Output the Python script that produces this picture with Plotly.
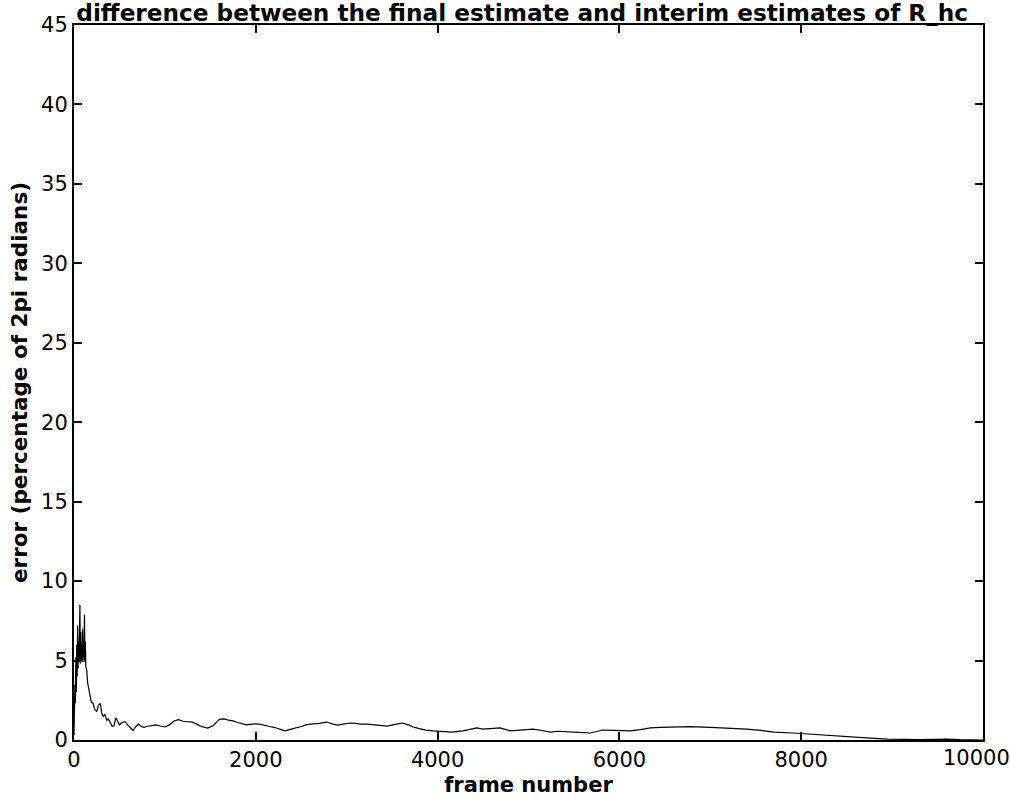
import plotly.graph_objects as go

frames = [0, 5, 10, 15, 20, 25, 30, 35, 40, 45, 50, 55, 60, 65, 70, 75, 80, 85, 90, 95,
          100, 105, 110, 115, 120, 125, 130, 140, 150, 160, 170, 180, 190, 210, 230, 250,
          270, 290, 305, 320, 340, 360, 380, 400, 420, 440, 460, 480, 500, 530, 560, 590,
          620, 650, 680, 710, 740, 770, 800, 850, 900, 950, 1000, 1050, 1100, 1150, 1200,
          1250, 1300, 1350, 1400, 1470, 1530, 1600, 1650, 1700, 1750, 1800, 1850, 1900,
          1950, 2000, 2050, 2100, 2150, 2200, 2250, 2320, 2400, 2450, 2500, 2550, 2600,
          2700, 2780, 2850, 2900, 2960, 3040, 3100, 3150, 3230, 3330, 3440, 3550, 3610,
          3680, 3730, 3800, 3870, 3950, 4050, 4150, 4280, 4380, 4430, 4500, 4600, 4690,
          4800, 4900, 5050, 5150, 5240, 5320, 5420, 5550, 5680, 5820, 5950, 6120, 6230,
          6340, 6450, 6560, 6780, 7000, 7220, 7400, 7550, 7700, 7910, 8050, 8210, 8350,
          8500, 8760, 8950, 9100, 9300, 9450, 9600, 9750, 9890, 10000]

error = [0.3, 1.8, 3.5, 2.3, 5.2, 3.0, 6.0, 4.0, 7.2, 4.5, 6.2, 5.0, 8.0, 8.5, 4.8, 6.8,
         5.0, 6.0, 4.9, 7.0, 5.2, 5.8, 4.9, 7.9, 5.0, 6.2, 4.6, 4.4, 3.6, 3.3, 2.8, 2.6,
         2.4, 2.3, 1.9, 1.8, 2.2, 2.3, 1.7, 1.5, 1.6, 1.25, 1.3, 1.1, 0.85, 0.9, 1.4, 1.2,
         0.95, 1.1, 1.15, 0.95, 0.8, 0.6, 0.85, 1.0, 0.85, 0.8, 0.85, 0.9, 0.95, 0.88,
         0.82, 0.95, 1.2, 1.28, 1.18, 1.15, 1.12, 1.0, 0.85, 0.75, 0.9, 1.3, 1.33, 1.25,
         1.2, 1.1, 1.0, 0.95, 1.0, 1.02, 0.98, 0.9, 0.85, 0.8, 0.7, 0.57, 0.7, 0.76, 0.85,
         0.95, 1.0, 1.05, 1.13, 1.0, 0.94, 1.0, 1.07, 1.05, 1.0, 1.0, 0.95, 0.88, 1.0,
         1.07, 0.95, 0.82, 0.72, 0.62, 0.57, 0.52, 0.5, 0.57, 0.7, 0.76, 0.69, 0.75, 0.76,
         0.57, 0.6, 0.69, 0.6, 0.5, 0.55, 0.5, 0.48, 0.44, 0.63, 0.6, 0.57, 0.65, 0.76,
         0.8, 0.82, 0.84, 0.8, 0.76, 0.69, 0.6, 0.5, 0.44, 0.38, 0.31, 0.25, 0.19, 0.12,
         0.06, 0.03, 0.02, 0.04, 0.06, 0.02, 0.01, 0.0]

x_ticks = [0, 2000, 4000, 6000, 8000, 10000]
x_labels = ["0", "2000", "4000", "6000", "8000", "10000"]
y_ticks = [0, 5, 10, 15, 20, 25, 30, 35, 40, 45]

tick_font = dict(family="DejaVu Sans", size=21, color="black")

fig = go.Figure()
fig.add_trace(go.Scatter(x=frames, y=error, mode="lines",
                         line=dict(color="black", width=1.2), showlegend=False))

axis_common = dict(showline=True, linecolor="black", linewidth=2, mirror="ticks",
                   ticks="inside", ticklen=8, tickwidth=1.5, tickcolor="black",
                   showgrid=False, zeroline=False, automargin=False,
                   tickfont=tick_font)

# the last x label would spill past the page edge (plotly hides it), so draw it as an annotation
fig.add_annotation(x=x_ticks[-1], y=0, xref="x", yref="y", text=x_labels[-1],
                   showarrow=False, font=tick_font, xanchor="center", yanchor="top",
                   yshift=-4, xshift=-7)

fig.update_layout(
    width=1010, height=803,
    margin=dict(l=74, r=27, t=25, b=63),
    paper_bgcolor="white", plot_bgcolor="white",
    title=dict(text="<b>difference between the final estimate and interim estimates of R_hc</b>",
               font=dict(family="DejaVu Sans", size=23.2, color="black"),
               x=0.517, xanchor="center", xref="container",
               y=1 - 13 / 803, yref="container", yanchor="middle"),
    xaxis=dict(range=[0, 10000], tickvals=x_ticks[:-1], ticktext=x_labels[:-1],
               title=dict(text="<b>frame number</b>", standoff=6,
                          font=dict(family="DejaVu Sans", size=21, color="black")),
               **axis_common),
    yaxis=dict(range=[0, 45], tickvals=y_ticks, ticktext=[str(v) for v in y_ticks],
               title=dict(text="<b>error (percentage of 2pi radians)</b>", standoff=8,
                          font=dict(family="DejaVu Sans", size=21.5, color="black")),
               **axis_common),
)

fig.write_html("out.html", config={"displayModeBar": False},
               post_script="document.body.style.margin='0';")
